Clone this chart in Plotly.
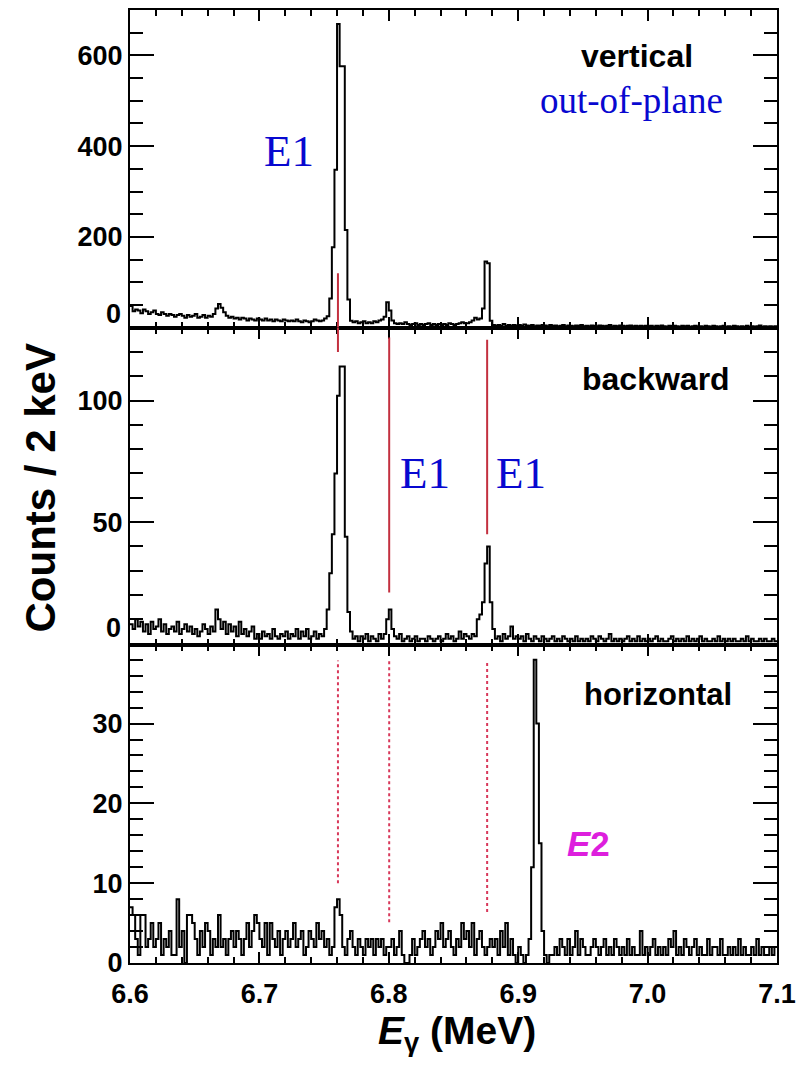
import numpy as np
import plotly.graph_objects as go
from plotly.subplots import make_subplots

# ---------------- data ----------------
E_START = 6.600   # MeV, first bin edge
BIN_W = 0.002     # MeV (2 keV bins)
N_BINS = 250

vertical = [
    48, 36, 40, 38, 32, 40, 36, 30, 34, 38,
    30, 28, 34, 30, 26, 30, 28, 24, 28, 30,
    26, 22, 28, 24, 26, 30, 22, 24, 28, 22,
    26, 24, 30, 42, 52, 44, 34, 26, 22, 24,
    20, 22, 18, 22, 20, 16, 20, 18, 16, 20,
    18, 16, 20, 16, 18, 14, 18, 16, 14, 18,
    16, 14, 16, 14, 18, 14, 12, 16, 14, 12,
    14, 18, 16, 14, 16, 20, 25, 64, 177, 348,
    669, 576, 576, 215, 62, 15, 12, 14, 10, 12,
    14, 10, 12, 10, 14, 12, 16, 18, 24, 56,
    38, 16, 10, 8, 10, 8, 12, 8, 6, 8,
    10, 6, 8, 6, 8, 10, 6, 8, 6, 8,
    6, 8, 6, 10, 8, 6, 8, 10, 12, 10,
    10, 12, 16, 22, 18, 20, 42, 146, 142, 15,
    6, 4, 6, 4, 8, 4, 6, 4, 6, 4,
    6, 4, 7, 5, 4, 6, 3, 5, 4, 6,
    5, 3, 6, 4, 5, 3, 4, 6, 3, 5,
    4, 3, 5, 4, 6, 3, 4, 3, 5, 4,
    3, 5, 4, 3, 4, 6, 3, 4, 3, 5,
    4, 3, 4, 5, 3, 4, 3, 4, 3, 4,
    3, 4, 2, 4, 3, 5, 3, 2, 4, 3,
    4, 3, 2, 4, 3, 4, 2, 3, 4, 2,
    3, 2, 4, 3, 2, 4, 3, 2, 3, 4,
    2, 3, 2, 4, 3, 2, 3, 2, 4, 2,
    3, 2, 3, 5, 2, 3, 2, 3, 2, 3,
]

backward = [
    8, 6, 10, 7, 9, 5, 8, 4, 9, 6,
    7, 10, 5, 8, 4, 6, 7, 5, 9, 4,
    6, 8, 5, 7, 4, 6, 3, 5, 8, 6,
    4, 7, 5, 14, 10, 6, 9, 4, 8, 5,
    7, 3, 9, 4, 6, 3, 5, 7, 2, 4,
    2, 5, 3, 4, 2, 6, 3, 2, 4, 3,
    5, 2, 4, 3, 6, 2, 5, 3, 6, 2,
    3, 5, 2, 4, 3, 6, 14, 29, 45, 70,
    102, 114, 114, 44, 13, 5, 2, 3, 1, 3,
    2, 4, 1, 3, 2, 1, 4, 2, 4, 10,
    14, 6, 3, 2, 4, 1, 2, 3, 1, 2,
    3, 1, 2, 2, 1, 3, 2, 1, 2, 3,
    1, 2, 4, 2, 3, 1, 2, 5, 2, 4,
    3, 2, 4, 3, 10, 12, 17, 33, 40, 17,
    6, 2, 3, 1, 4, 2, 3, 7, 2, 3,
    2, 3, 1, 4, 2, 1, 3, 2, 1, 3,
    2, 1, 2, 3, 1, 2, 1, 3, 2, 1,
    2, 1, 3, 1, 2, 1, 2, 1, 3, 2,
    1, 3, 2, 1, 2, 4, 1, 2, 1, 2,
    1, 2, 3, 1, 2, 1, 3, 1, 2, 1,
    2, 1, 2, 3, 1, 2, 1, 1, 2, 3,
    1, 2, 1, 2, 1, 3, 1, 2, 1, 2,
    3, 1, 2, 1, 1, 2, 1, 3, 1, 2,
    1, 2, 1, 2, 1, 1, 2, 1, 3, 1,
    2, 1, 1, 2, 1, 2, 1, 1, 2, 1,
]

horizontal = [
    7, 6, 3, 1, 6, 6, 2, 3, 5, 2,
    3, 5, 1, 3, 2, 4, 1, 1, 8, 2,
    4, 0, 6, 6, 5, 3, 1, 4, 2, 5,
    4, 1, 3, 2, 6, 2, 3, 1, 3, 4,
    2, 4, 3, 1, 3, 5, 2, 4, 6, 5,
    3, 2, 5, 1, 5, 3, 2, 4, 1, 3,
    4, 2, 3, 5, 2, 3, 4, 1, 2, 4,
    3, 2, 5, 3, 4, 2, 3, 1, 2, 7,
    8, 6, 2, 1, 3, 4, 2, 1, 3, 2,
    1, 3, 2, 3, 1, 3, 2, 3, 1, 2,
    2, 3, 1, 2, 4, 1, 0, 0, 1, 3,
    1, 2, 3, 4, 2, 3, 1, 2, 4, 3,
    5, 2, 3, 4, 2, 1, 3, 2, 5, 3,
    4, 2, 5, 1, 3, 4, 2, 1, 2, 3,
    2, 3, 1, 4, 2, 5, 1, 3, 1, 0,
    2, 1, 0, 1, 3, 12, 38, 30, 15, 4,
    1, 0, 1, 1, 2, 1, 3, 2, 1, 3,
    1, 2, 4, 1, 3, 2, 1, 1, 2, 3,
    2, 1, 2, 3, 1, 2, 1, 3, 2, 1,
    2, 1, 3, 1, 2, 1, 1, 4, 1, 2,
    1, 2, 3, 1, 2, 1, 2, 1, 3, 2,
    4, 1, 2, 1, 3, 2, 1, 2, 3, 1,
    2, 1, 1, 3, 1, 2, 2, 1, 3, 1,
    1, 2, 1, 2, 1, 3, 1, 2, 1, 1,
    2, 1, 3, 1, 2, 1, 1, 2, 1, 2,
]

panel_labels = ["vertical", "backward", "horizontal"]
x_ticks = [6.6, 6.7, 6.8, 6.9, 7.0, 7.1]
x_ticktext = ["6.6", "6.7", "6.8", "6.9", "7.0", "7.1"]
y_ticks = [[0, 200, 400, 600], [0, 50, 100], [0, 10, 20, 30]]
y_ranges = [[0, 700], [-0.7, 130], [0, 39.8]]
y_minor = [50, 10, 2]

# transition energies (MeV) marked by red lines
e1_lines = [6.7607, 6.8003, 6.876]

# ---------------- figure ----------------
edges = E_START + BIN_W * np.arange(N_BINS + 1)

fig = make_subplots(rows=3, cols=1, shared_xaxes=True, vertical_spacing=0)

for r, vals in enumerate([vertical, backward, horizontal], start=1):
    yy = list(vals) + [vals[-1]]
    fig.add_trace(go.Scatter(x=edges, y=yy, mode="lines", line_shape="hv",
                             line=dict(color="black", width=2),
                             showlegend=False, hoverinfo="skip"), row=r, col=1)

tickfont = dict(family="Liberation Sans, Arial, sans-serif", size=27, color="black", weight="bold")

for r in range(1, 4):
    fig.update_xaxes(row=r, col=1, range=[6.6, 7.1], showline=True, linecolor="black", linewidth=2,
                     mirror="ticks", ticks="inside", ticklen=11, tickwidth=2, tickcolor="black",
                     tickvals=x_ticks, ticktext=x_ticktext, showgrid=False, zeroline=False,
                     showticklabels=(r == 3), tickfont=tickfont,
                     minor=dict(ticks="inside", dtick=0.02, ticklen=6, tickwidth=1.5, tickcolor="black", showgrid=False))
    tv = y_ticks[r - 1]
    tt = [("" if (v == 0 and r < 3) else str(v)) for v in tv]
    fig.update_yaxes(row=r, col=1, range=y_ranges[r - 1], showline=True, linecolor="black", linewidth=2,
                     mirror="ticks", ticks="inside", ticklen=24, tickwidth=2, tickcolor="black",
                     tickvals=tv, ticktext=tt, showgrid=False, zeroline=False, tickfont=tickfont,
                     minor=dict(ticks="inside", dtick=y_minor[r - 1], ticklen=13, tickwidth=2,
                                tickcolor="black", showgrid=False))

fig.update_xaxes(row=3, col=1, ticklabelstandoff=6, ticklabeloverflow="allow")

# red solid lines (top/middle)
red = "#c3303f"
fig.add_shape(type="line", xref="x", yref="y", x0=e1_lines[0], x1=e1_lines[0], y0=0, y1=120,
              line=dict(color=red, width=2))
fig.add_shape(type="line", xref="x2", yref="y2", x0=e1_lines[0], x1=e1_lines[0], y0=120, y1=130,
              line=dict(color=red, width=2))
fig.add_shape(type="line", xref="x2", yref="y2", x0=e1_lines[1], x1=e1_lines[1], y0=21, y1=126,
              line=dict(color=red, width=2))
fig.add_shape(type="line", xref="x2", yref="y2", x0=e1_lines[2], x1=e1_lines[2], y0=45, y1=125,
              line=dict(color=red, width=2))
# dotted lines (bottom)
dot_red = "#d8385a"
for e, ylo in zip(e1_lines, [10.0, 5.1, 6.4]):
    fig.add_shape(type="line", xref="x3", yref="y3", x0=e, x1=e, y0=ylo, y1=37.9,
                  line=dict(color=dot_red, width=2, dash="dot"))

bold_sans = dict(family="Liberation Sans, Arial, sans-serif", color="black", weight="bold")
serif_blue = dict(family="Liberation Serif, Times New Roman, serif", color="#0808d0")

ann = []
# panel labels
ann.append(dict(text=panel_labels[0], x=6.9918, y=598, xref="x", yref="y", font=dict(size=32, **bold_sans)))
ann.append(dict(text=panel_labels[1], x=7.0063, y=109, xref="x2", yref="y2", font=dict(size=32, **bold_sans)))
ann.append(dict(text=panel_labels[2], x=7.0078, y=33.7, xref="x3", yref="y3", font=dict(size=31, **bold_sans)))
ann.append(dict(text="out-of-plane", x=6.9876, y=500, xref="x", yref="y", font=dict(size=37, **serif_blue)))
ann.append(dict(text="E1", x=6.7225, y=390, xref="x", yref="y", font=dict(size=45, **serif_blue)))
ann.append(dict(text="E1", x=6.8280, y=70, xref="x2", yref="y2", font=dict(size=45, **serif_blue)))
ann.append(dict(text="E1", x=6.9020, y=70, xref="x2", yref="y2", font=dict(size=45, **serif_blue)))
ann.append(dict(text="<i>E</i>2", x=6.9545, y=15, xref="x3", yref="y3",
                font=dict(size=35, family="Liberation Sans, Arial, sans-serif", color="#dd1fdd", weight="bold")))
# raised zero labels for the top two panels
ann.append(dict(text="0", x=0, y=0, xref="paper", yref="y", xanchor="right", xshift=-7, yshift=14,
                font=dict(size=27, **bold_sans)))
ann.append(dict(text="0", x=0, y=0, xref="paper", yref="y2", xanchor="right", xshift=-7, yshift=16,
                font=dict(size=27, **bold_sans)))
# axis titles
ann.append(dict(text="Counts / 2 keV", x=-0.139, y=0.498, xref="paper", yref="paper", textangle=-90,
                xanchor="center", yanchor="middle", font=dict(size=42, **bold_sans)))
ann.append(dict(text="<i>E</i><sub>γ</sub> (MeV)", x=0.505, y=-0.074, xref="paper", yref="paper",
                xanchor="center", yanchor="middle", font=dict(size=39, **bold_sans)))

for a in ann:
    a.setdefault("showarrow", False)
    fig.add_annotation(**a)

fig.update_layout(width=788, height=1049, margin=dict(l=122, r=17, t=0, b=94),
                  plot_bgcolor="white", paper_bgcolor="white")

fig.write_html("out.html")
